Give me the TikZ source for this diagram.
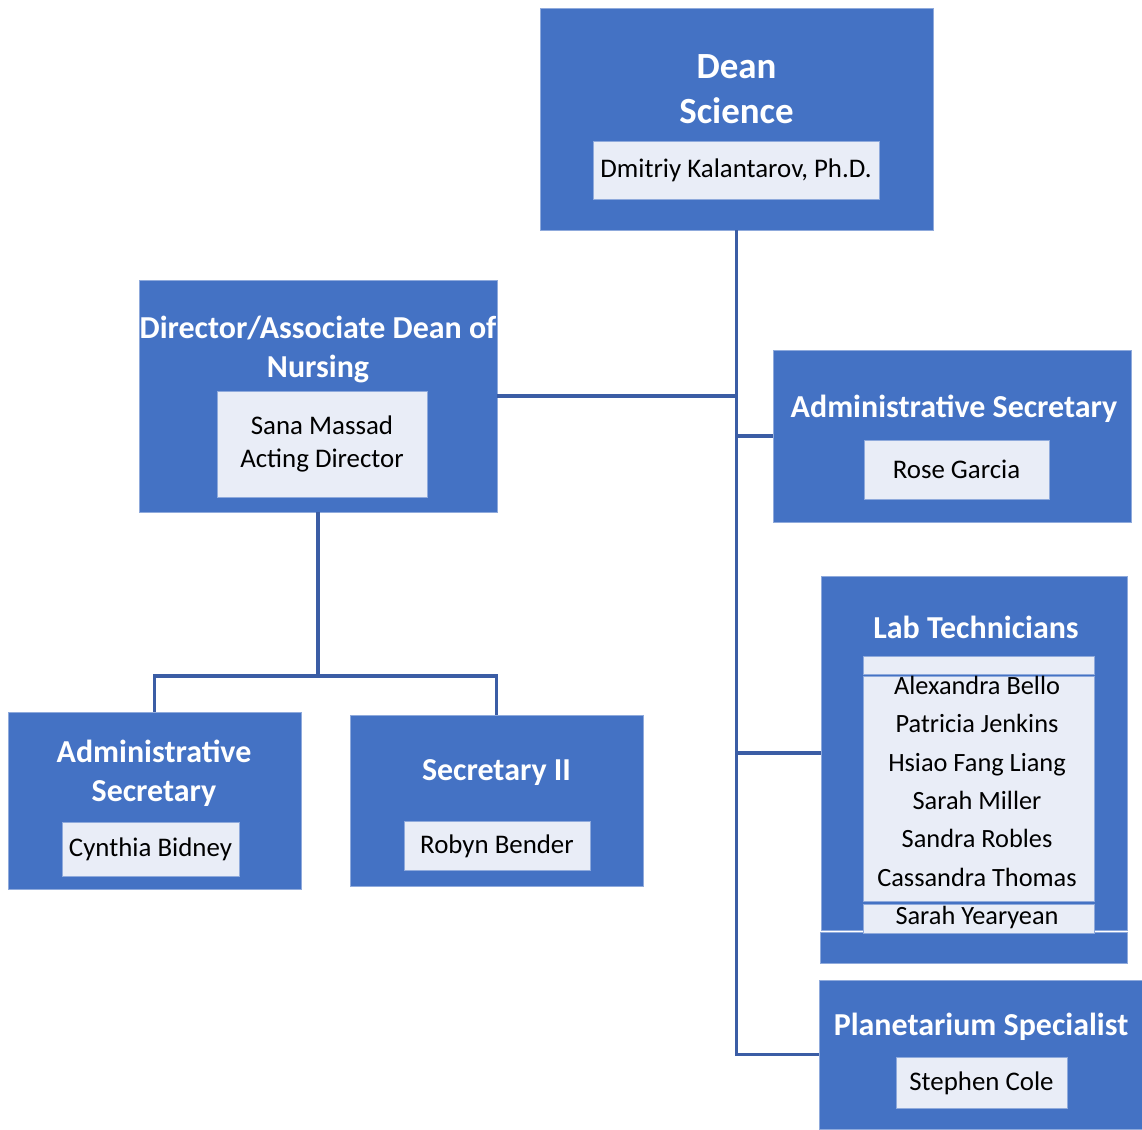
\documentclass[tikz,border=0pt]{standalone}
\usepackage{fontspec}
\setmainfont{Carlito}
\definecolor{azulcaixa}{HTML}{4472C4}
\definecolor{azulnome}{HTML}{E9EDF7}
\definecolor{azulborda}{HTML}{8FAADC}
\definecolor{azullinha}{HTML}{3B5DA5}
\tikzset{
  caixabox/.style 2 args={fill=azulcaixa, draw=azulborda, line width=0.4pt, inner sep=0pt,
    minimum width=#1*0.02cm, minimum height=#2*0.02cm},
  nomebox/.style 2 args={fill=azulnome, draw=azulborda, line width=0.4pt, inner sep=0pt, align=center,
    minimum width=#1*0.02cm, minimum height=#2*0.02cm, font=\fontsize{15.3}{18.7}\selectfont},
  titulo/.style={text=white, inner sep=0pt, align=center, font=\bfseries\fontsize{18.2}{22.1}\selectfont},
  ligacao/.style={draw=azullinha, line width=2pt},
}
\begin{document}
\begin{tikzpicture}[x=0.02cm, y=-0.02cm]
    \useasboundingbox (0,0) rectangle (1142,1129);

    % Diretor - topo
    \node[caixabox={393}{222}] (dean) at (736.5,119) {};
    \node[titulo, font=\bfseries\fontsize{21}{25.5}\selectfont] (tdean) at (736.5,89) {Dean\\Science};
    \node[nomebox={286}{58}] (ndean) at (736,170) {Dmitriy Kalantarov, Ph.D.};

    % Enfermagem
    \node[caixabox={358}{232}] (dir) at (318,396) {};
    \node[titulo] (tdir) at (318,349.5) {Director/Associate Dean of\\Nursing};
    \node[nomebox={210}{106}] (ndir) at (322,444) {Sana Massad\\Acting Director};

    % Secretaria (direita)
    \node[caixabox={358}{172}] (adm) at (952,436) {};
    \node[titulo] (tadm) at (954,409) {Administrative Secretary};
    \node[nomebox={185}{59}] (nadm) at (956.5,469.5) {Rose Garcia};

    % Tecnicos de laboratorio
    \node[caixabox={306}{354}] (lab) at (974,753) {};
    \node[caixabox={307}{31}] (labpe) at (973.5,947.5) {};
    \node[titulo] (tlab) at (976,627) {Lab Technicians};
    \node[nomebox={231}{18}] (labtopo) at (978.5,665) {};
    \node[nomebox={231}{225}] (labmeio) at (978.5,788.5) {};
    \node[nomebox={231}{29}] (labbase) at (978.5,918.5) {};
    \node[inner sep=0pt, align=center, font=\fontsize{15}{21.8}\selectfont] (nlab) at (977,802.5)
      {Alexandra Bello\\Patricia Jenkins\\Hsiao Fang Liang\\Sarah Miller\\Sandra Robles\\Cassandra Thomas\\Sarah Yearyean};

    % Planetario
    \node[caixabox={323}{149}] (plan) at (980.5,1054.5) {};
    \node[titulo] (tplan) at (981,1027) {Planetarium Specialist};
    \node[nomebox={171}{51}] (nplan) at (981.5,1083) {Stephen Cole};

    % Subordinados da enfermagem
    \node[caixabox={293}{177}] (adm2) at (154.5,800.5) {};
    \node[titulo] (tadm2) at (154,773.5) {Administrative\\Secretary};
    \node[nomebox={177}{54}] (nadm2) at (150.5,849.5) {Cynthia Bidney};

    \node[caixabox={293}{171}] (sec) at (496.5,800.5) {};
    \node[titulo] (tsec) at (496.5,773) {Secretary II};
    \node[nomebox={186}{49}] (nsec) at (497,846) {Robyn Bender};

    % Ligacoes
    \draw[ligacao] (dean.south) |- (plan.west);
    \draw[ligacao] (dir.east) -- (dir.east -| dean.south);
    \draw[ligacao] (dean.south |- adm.west) -- (adm.west);
    \draw[ligacao] (dean.south |- lab.west) -- (lab.west);
    \coordinate (garfo) at (318,676);
    \draw[ligacao] (dir.south) -- (garfo) -| (adm2.north);
    \draw[ligacao] (garfo) -| (sec.north);
  \end{tikzpicture}
\end{document}
